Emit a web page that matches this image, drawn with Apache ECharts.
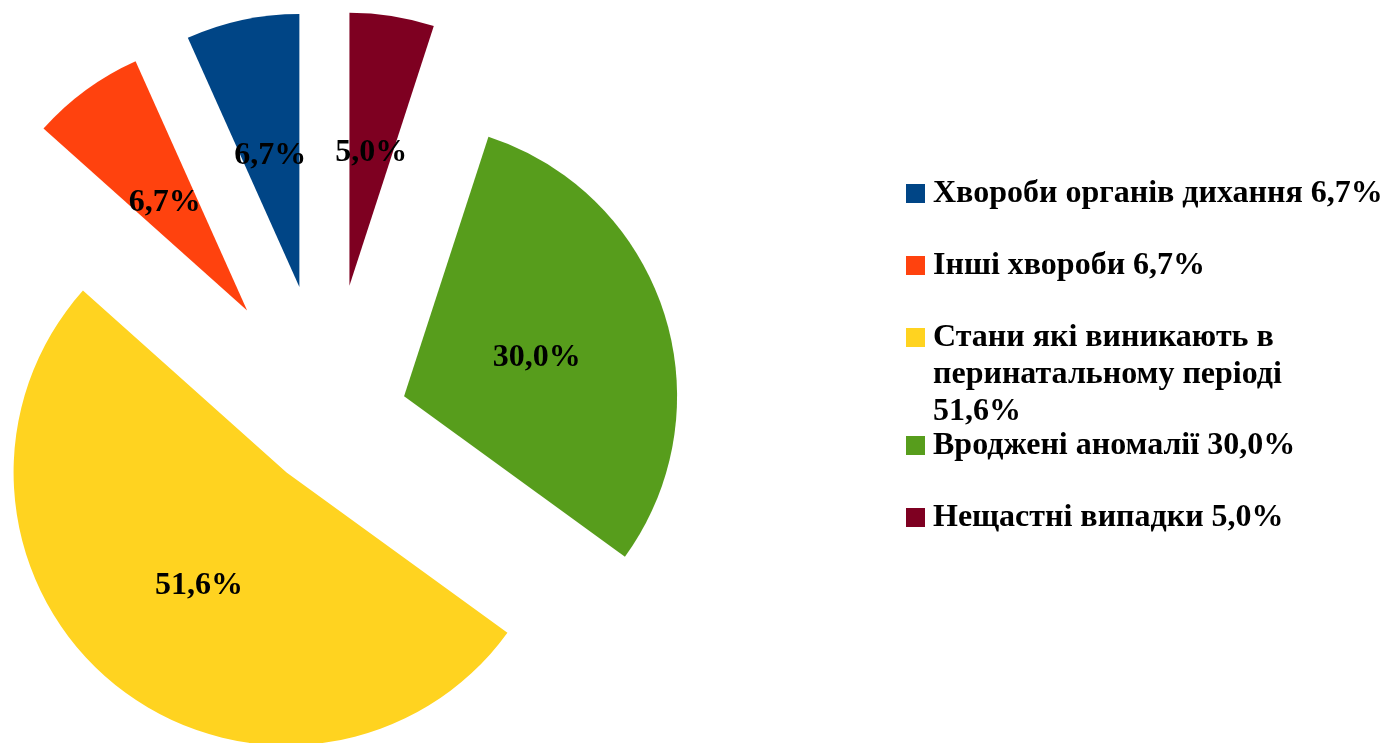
<!DOCTYPE html>
<html>
<head>
<meta charset="utf-8">
<title>Причини смертності</title>
<script src="https://cdn.jsdelivr.net/npm/echarts@6/dist/echarts.min.js"></script>
<style>
  html, body { margin: 0; padding: 0; background: #fff; }
  #chart { width: 1386px; height: 743px; }
</style>
</head>
<body>
<div id="chart"></div>
<script>
const categories = [
  'Хвороби органів дихання',
  'Інші хвороби',
  'Стани які виникають в\nперинатальному періоді',
  'Вроджені аномалії',
  'Нещастні випадки'
];
const shares = [6.7, 6.7, 51.6, 30.0, 5.0];
const sliceColors = ['#004586', '#ff420e', '#ffd320', '#579d1c', '#7e0021'];
// how far each slice is pulled out of the pie (px)
const explode = [137, 137, 66, 80, 137];

const FONT = '"Liberation Serif", "Times New Roman", serif';
const pct = v => v.toFixed(1).replace('.', ',') + '%';

const chart = echarts.init(document.getElementById('chart'));

// one pie per slice with identical angles, so each slice gets its own offset
const series = categories.map((_, i) => ({
  type: 'pie',
  center: [328, 421],
  radius: 273,
  startAngle: 90,
  clockwise: false,
  selectedMode: 'multiple',
  selectedOffset: explode[i],
  avoidLabelOverlap: false,
  labelLayout: { hideOverlap: false },
  color: sliceColors,
  itemStyle: { borderWidth: 0 },
  select: { itemStyle: { borderWidth: 0 } },
  label: {
    position: 'inside',
    formatter: p => '{v|' + pct(p.value) + '}',
    rich: {
      // a bit of top padding drops the digits onto the slice centre
      v: {
        color: '#000',
        fontFamily: FONT,
        fontWeight: 'bold',
        fontSize: 32,
        padding: [10, 0, 0, 0]
      }
    }
  },
  labelLine: { show: false },
  data: categories.map((name, j) => ({
    name,
    value: shares[j],
    selected: true,
    itemStyle: { opacity: j === i ? 1 : 0 },
    label: { show: j === i }
  }))
}));

const legendBase = {
  orient: 'vertical',
  left: 906,
  padding: 0,
  icon: 'rect',
  itemWidth: 19,
  itemHeight: 19,
  itemGap: 35,
  selectedMode: false,
  itemStyle: { opacity: 1 },
  formatter: name => {
    const i = categories.indexOf(name);
    // wrapped entry: two empty lines on top keep the marker on its first line
    if (name.includes('\n')) return '\n\n' + name + '\n' + pct(shares[i]);
    return name + ' ' + pct(shares[i]);
  },
  textStyle: {
    fontFamily: FONT,
    fontWeight: 'bold',
    fontSize: 32,
    lineHeight: 37,
    color: '#000',
    padding: [0, 0, 0, 3]
  }
};

const option = {
  animation: false,
  backgroundColor: '#fff',
  legend: [
    { ...legendBase, top: 175, data: categories.slice(0, 2) },
    { ...legendBase, top: 245, data: categories.slice(2, 3) },
    { ...legendBase, top: 427, data: categories.slice(3) }
  ],
  series
};

chart.setOption(option);
</script>
</body>
</html>
